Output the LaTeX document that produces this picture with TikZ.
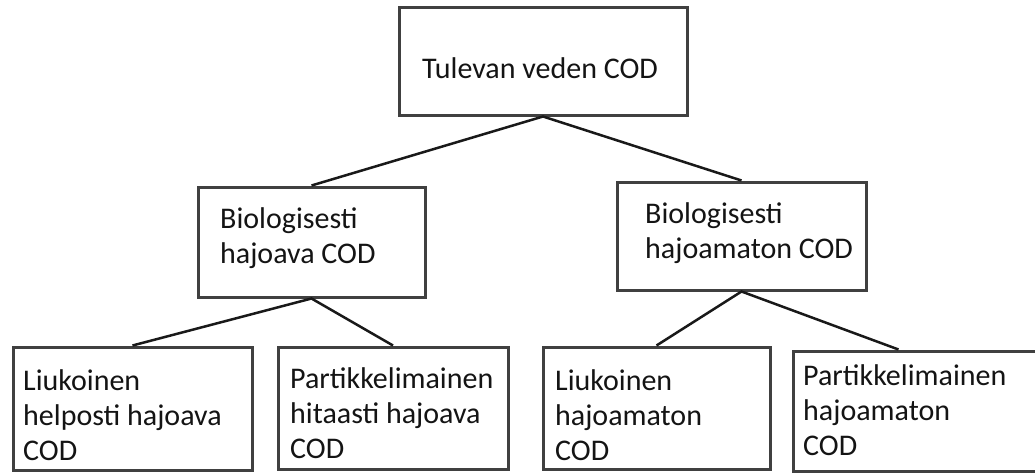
\documentclass[tikz,border=0pt]{standalone}
\usepackage{fontspec}
\setmainfont{Carlito}
\usetikzlibrary{calc}
\tikzset{
  box/.style={draw=black!75, line width=3pt, rectangle, inner sep=0pt, fill=white},
  label/.style={inner sep=0pt, align=left, text=black!92,
    font=\fontsize{30pt}{35pt}\selectfont},
  link/.style={draw=black!90, line width=2.5pt}
}
\begin{document}
\begin{tikzpicture}[x=1pt, y=-1pt]
  \useasboundingbox[fill=white] (0,0) rectangle (1035,472);

  % tree structure
  \node[box, minimum width=288pt, minimum height=108pt] (top) at (543,61) {};
  \node[box, minimum width=227pt, minimum height=110pt] (ml) at (311.5,242) {};
  \node[box, minimum width=249pt, minimum height=108pt] (mr) at (741.5,236) {};
  \node[box, minimum width=239pt, minimum height=123pt] (b1) at (132.5,408.5) {};
  \node[box, minimum width=230pt, minimum height=122pt] (b2) at (393,408) {};
  \node[box, minimum width=227pt, minimum height=122pt] (b3) at (656.5,408) {};
  \node[box, minimum width=257pt, minimum height=120pt] (b4) at (921.5,411) {};

  % connectors
  \draw[link] (ml.north) -- (top.south) -- (mr.north);
  \draw[link] (b1.north) -- (ml.south) -- (b2.north);
  \draw[link] (b3.north) -- (mr.south) -- ([xshift=107pt]b4.north west);

  % labels (base anchor sits on the last line)
  \node[label, anchor=base] (ttop) at (540,78) {Tulevan veden COD};
  \node[label, anchor=base west] (tml) at (220,263) {Biologisesti\\hajoava COD};
  \node[label, anchor=base west] (tmr) at (645,258) {Biologisesti\\hajoamaton COD};
  \node[label, anchor=base west] (tb1) at (23,460) {Liukoinen\\helposti hajoava\\COD};
  \node[label, anchor=base west] (tb2) at (290,458) {Partikkelimainen\\hitaasti hajoava\\COD};
  \node[label, anchor=base west] (tb3) at (555,460) {Liukoinen\\hajoamaton\\COD};
  \node[label, anchor=base west] (tb4) at (803,455) {Partikkelimainen\\hajoamaton\\COD};
\end{tikzpicture}
\end{document}
